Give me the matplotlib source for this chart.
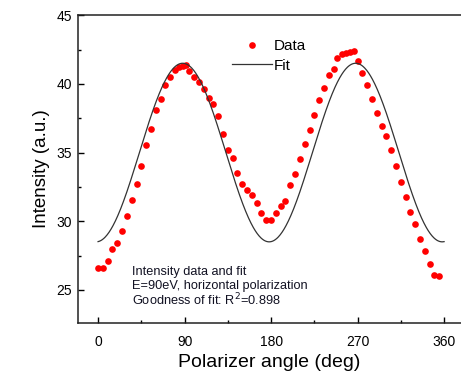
import matplotlib
matplotlib.use('Agg')
import matplotlib.pyplot as plt
import numpy as np
from matplotlib.ticker import MultipleLocator

plt.rcParams['font.family'] = ['Liberation Sans', 'DejaVu Sans']

# measured intensity vs polarizer angle
angle = [0, 5, 10, 15, 20, 25, 30, 35, 40, 45, 50, 55, 60, 65, 70, 75, 80, 84, 88, 91,
         95, 100, 105, 110, 115, 120, 125, 130, 135, 140, 145, 150, 155, 160, 165, 170,
         175, 180, 185, 190, 195, 200, 205, 210, 215, 220, 225, 230, 235, 240, 245, 249,
         254, 258, 262, 266, 270, 275, 280, 285, 290, 295, 300, 305, 310, 315, 320, 325,
         330, 335, 340, 345, 350, 355]
intensity = [26.6, 26.6, 27.1, 27.95, 28.45, 29.3, 30.4, 31.55, 32.7, 34.0, 35.55, 36.75,
             38.1, 38.9, 39.9, 40.5, 41.0, 41.2, 41.3, 41.38,
             40.9, 40.5, 40.15, 39.65, 39.0, 38.5, 37.65, 36.35, 35.2, 34.6, 33.5, 32.7,
             32.3, 31.9, 31.3, 30.6,
             30.07, 30.1, 30.6, 31.1, 31.5, 32.65, 33.45, 34.5, 35.6, 36.65, 37.7, 38.8,
             39.7, 40.65, 41.1, 41.9,
             42.15, 42.27, 42.35, 42.4, 41.67, 40.8, 39.9, 38.9, 37.85, 36.9, 36.2, 35.2,
             34.0, 32.85, 31.75, 30.65,
             29.8, 28.7, 27.85, 26.9, 26.1, 26.0]

# fit parameters: I = offset + amp * sin^2(theta - phase)
fit_offset = 28.5
fit_amp = 13.0
fit_phase = -2.0

info_lines = ['Intensity data and fit', 'E=90eV, horizontal polarization',
              'Goodness of fit: R$^2$=0.898']

theta = np.linspace(0, 360, 721)
fit = fit_offset + fit_amp * np.sin(np.radians(theta - fit_phase)) ** 2

fig = plt.figure(figsize=(4.61, 3.79), dpi=100)
ax = fig.add_axes([0.170, 0.148, 0.830, 0.812])

ax.plot(angle, intensity, 'o', color='#ff0000', ms=4.8, mec='none', label='Data')
ax.plot(theta, fit, '-', color='#333333', lw=0.9, label='Fit')

ax.set_xlim(-20.5, 377.6)
ax.set_ylim(22.6, 45)
ax.xaxis.set_major_locator(MultipleLocator(90))
ax.xaxis.set_minor_locator(MultipleLocator(45))
ax.yaxis.set_major_locator(MultipleLocator(5))
ax.yaxis.set_minor_locator(MultipleLocator(2.5))
ax.tick_params(which='both', direction='in', top=False, right=False, width=1.0, labelsize=10)
ax.tick_params(which='major', length=4)
ax.tick_params(which='minor', length=2.5)
ax.tick_params(axis='x', pad=8.5)
ax.tick_params(axis='y', pad=4.5)
for side in ['left', 'bottom', 'top']:
    ax.spines[side].set_linewidth(1.1)
    ax.spines[side].set_color('#222222')
ax.spines['right'].set_visible(False)

ax.set_xlabel('Polarizer angle (deg)', fontsize=14, labelpad=4)
ax.set_ylabel('Intensity (a.u.)', fontsize=13.5, labelpad=5)

ax.legend(loc='upper left', bbox_to_anchor=(0.401, 0.922), frameon=False, fontsize=11,
          handlelength=2.6, handletextpad=0.15, labelspacing=0.35, borderpad=0,
          borderaxespad=0, numpoints=1)

for line, ypos in zip(info_lines, [0.156, 0.110, 0.058]):
    ax.text(0.139, ypos, line, transform=ax.transAxes, fontsize=9.2,
            va='baseline', ha='left', color='#111122')

fig.savefig('out.png', dpi=100)
